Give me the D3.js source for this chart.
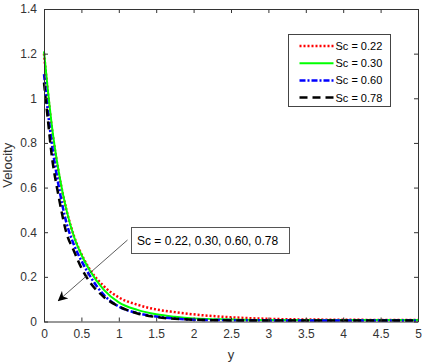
<!DOCTYPE html>
<html>
<head>
<meta charset="utf-8">
<script src="https://cdn.jsdelivr.net/npm/d3@7"></script>
<style>
  body { margin: 0; background: #fff; }
  svg { display: block; font-family: "Liberation Sans", Arial, sans-serif; }
</style>
</head>
<body>
<div id="chart"></div>
<script>
const yPoints = [0, 0.05, 0.1, 0.2, 0.3, 0.4, 0.5, 0.6, 0.8, 1, 1.25, 1.5, 1.75, 2, 2.5, 3, 3.5, 4, 4.5, 5];

const sc022 = [1.20, 1.03, 0.88, 0.66, 0.50, 0.383, 0.302, 0.240, 0.158, 0.108, 0.075, 0.054, 0.042, 0.032, 0.019, 0.012, 0.009, 0.008, 0.007, 0.007];
const sc030 = [1.21, 1.04, 0.89, 0.664, 0.50, 0.381, 0.299, 0.235, 0.142, 0.086, 0.052, 0.032, 0.021, 0.014, 0.009, 0.007, 0.007, 0.007, 0.007, 0.007];
const sc060 = [1.108, 0.945, 0.808, 0.60, 0.442, 0.344, 0.272, 0.212, 0.119, 0.067, 0.038, 0.022, 0.013, 0.008, 0.006, 0.005, 0.005, 0.005, 0.005, 0.005];
const sc078 = [1.07, 0.91, 0.754, 0.553, 0.397, 0.316, 0.24, 0.183, 0.110, 0.068, 0.036, 0.020, 0.012, 0.008, 0.005, 0.004, 0.004, 0.004, 0.004, 0.004];

const seriesNames = ["Sc = 0.22", "Sc = 0.30", "Sc = 0.60", "Sc = 0.78"];
const xTicks = [0, 0.5, 1, 1.5, 2, 2.5, 3, 3.5, 4, 4.5, 5];
const yTicks = [0, 0.2, 0.4, 0.6, 0.8, 1, 1.2, 1.4];
const annotation = "Sc = 0.22, 0.30, 0.60, 0.78";

const styles = [
    { color: "#ff0000", dash: "2,2", width: 2.5 },
    { color: "#00ff00", dash: null, width: 2 },
    { color: "#0000ff", dash: "6,2,2,2", width: 2.5 },
    { color: "#000000", dash: "8,5", width: 2.5 }
];

const W = 426, H = 363;
const margin = { left: 44, right: 8, top: 9, bottom: 41.5 };
const width = W - margin.left - margin.right;
const height = H - margin.top - margin.bottom;
const axisColor = "#333";

const svg = d3.select("#chart").append("svg")
    .attr("width", W)
    .attr("height", H);

const g = svg.append("g")
    .attr("transform", `translate(${margin.left}, ${margin.top})`);

const x = d3.scaleLinear().domain([0, 5]).range([0, width]);
const y = d3.scaleLinear().domain([0, 1.4]).range([height, 0]);

// curves
const data = [sc022, sc030, sc060, sc078].map(vals => yPoints.map((p, i) => ({ x: p, v: vals[i] })));
const line = d3.line()
    .x(d => x(d.x))
    .y(d => y(d.v))
    .curve(d3.curveMonotoneX);

data.forEach((d, i) => {
    g.append("path")
        .datum(d)
        .attr("fill", "none")
        .attr("stroke", styles[i].color)
        .attr("stroke-width", styles[i].width)
        .attr("stroke-dasharray", styles[i].dash)
        .attr("d", line);
});

// axes, MATLAB-like box with inward ticks
const fmt = d => String(d);
const xAxis = g.append("g")
    .attr("transform", `translate(0, ${height})`)
    .call(d3.axisBottom(x).tickValues(xTicks).tickFormat(fmt).tickSizeInner(-4).tickSizeOuter(0).tickPadding(8));
const yAxis = g.append("g")
    .call(d3.axisLeft(y).tickValues(yTicks).tickFormat(fmt).tickSizeInner(-4).tickSizeOuter(0).tickPadding(7));
const xTop = g.append("g")
    .call(d3.axisTop(x).tickValues(xTicks).tickFormat("").tickSizeInner(-4).tickSizeOuter(0));
const yRight = g.append("g")
    .attr("transform", `translate(${width}, 0)`)
    .call(d3.axisRight(y).tickValues(yTicks).tickFormat("").tickSizeInner(-4).tickSizeOuter(0));

[xAxis, yAxis, xTop, yRight].forEach(a => {
    a.selectAll("path, line").attr("stroke", axisColor);
    a.selectAll("text").attr("fill", axisColor).style("font-size", "12px").style("font-family", "'Liberation Sans', Arial, sans-serif");
});

g.append("text")
    .attr("x", width / 2)
    .attr("y", height + 37)
    .attr("text-anchor", "middle")
    .attr("fill", axisColor)
    .style("font-size", "13px")
    .text("y");

g.append("text")
    .attr("transform", `translate(${-32}, ${height / 2}) rotate(-90)`)
    .attr("text-anchor", "middle")
    .attr("fill", axisColor)
    .style("font-size", "13px")
    .text("Velocity");

// legend
const lg = svg.append("g").attr("transform", "translate(288.5, 34.5)");
lg.append("rect")
    .attr("width", 102)
    .attr("height", 72)
    .attr("fill", "#fff")
    .attr("stroke", "#444")
    .attr("stroke-width", 1);

seriesNames.forEach((name, i) => {
    const ry = 11.5 + i * 17.2;
    lg.append("line")
        .attr("x1", 11).attr("x2", 45)
        .attr("y1", ry).attr("y2", ry)
        .attr("stroke", styles[i].color)
        .attr("stroke-width", styles[i].width)
        .attr("stroke-dasharray", styles[i].dash);
    lg.append("text")
        .attr("x", 47)
        .attr("y", ry + 4)
        .attr("fill", "#000")
        .style("font-size", "11px")
        .text(name);
});

// annotation with arrow
svg.append("defs").append("marker")
    .attr("id", "arrow")
    .attr("viewBox", "0 0 10 10")
    .attr("refX", 9)
    .attr("refY", 5)
    .attr("markerWidth", 10)
    .attr("markerHeight", 10)
    .attr("markerUnits", "userSpaceOnUse")
    .attr("orient", "auto")
    .append("path")
    .attr("d", "M0,0 L10,5 L0,10 L3,5 Z")
    .attr("fill", "#000");

svg.append("line")
    .attr("x1", 127.5).attr("y1", 240)
    .attr("x2", 58.5).attr("y2", 300.5)
    .attr("stroke", "#333")
    .attr("stroke-width", 0.8)
    .attr("marker-end", "url(#arrow)");

svg.append("rect")
    .attr("x", 131.5).attr("y", 227.5)
    .attr("width", 158).attr("height", 26)
    .attr("fill", "#fff")
    .attr("stroke", "#555")
    .attr("stroke-width", 1);

svg.append("text")
    .attr("x", 137)
    .attr("y", 245)
    .attr("fill", "#000")
    .style("font-size", "12px")
    .text(annotation);
</script>
</body>
</html>
